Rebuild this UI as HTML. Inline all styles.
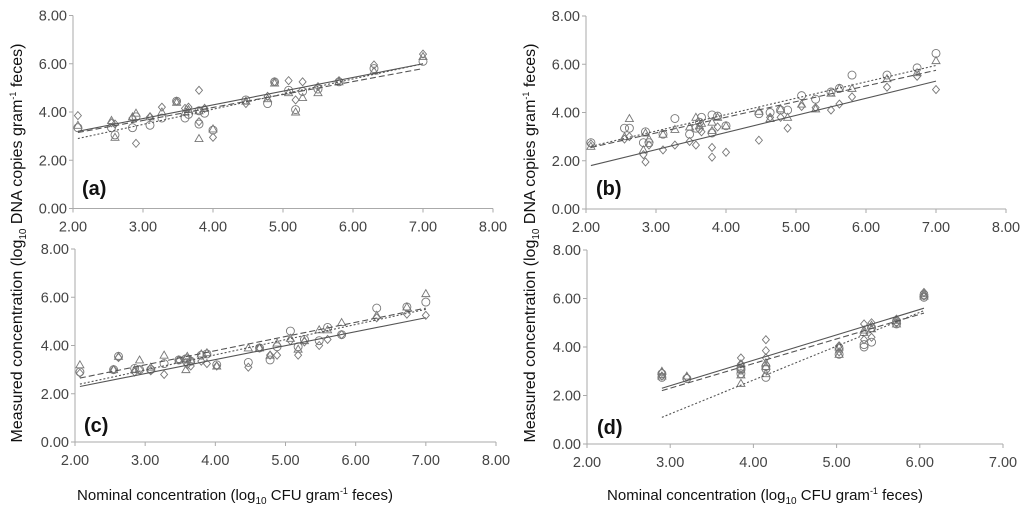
<!DOCTYPE html>
<html><head><meta charset="utf-8"><style>
html,body{margin:0;padding:0;background:#fff;}
svg{display:block;font-family:"Liberation Sans",sans-serif;}
</style></head><body>
<svg id="chart" width="1024" height="514" viewBox="0 0 1024 514" xmlns="http://www.w3.org/2000/svg">
<text transform="translate(22,243) rotate(-90)" text-anchor="middle" font-size="16" fill="#111">Measured concentration (log<tspan font-size="10" dy="4">10</tspan><tspan dy="-4"> DNA copies gram</tspan><tspan font-size="9" dy="-6">-1</tspan><tspan dy="6"> feces)</tspan></text>
<text transform="translate(535,243) rotate(-90)" text-anchor="middle" font-size="16" fill="#111">Measured concentration (log<tspan font-size="10" dy="4">10</tspan><tspan dy="-4"> DNA copies gram</tspan><tspan font-size="9" dy="-6">-1</tspan><tspan dy="6"> feces)</tspan></text>
<text x="235" y="500" text-anchor="middle" font-size="15" fill="#111">Nominal concentration (log<tspan font-size="10" dy="4">10</tspan><tspan dy="-4"> CFU gram</tspan><tspan font-size="9" dy="-6">-1</tspan><tspan dy="6"> feces)</tspan></text>
<text x="765" y="500" text-anchor="middle" font-size="15" fill="#111">Nominal concentration (log<tspan font-size="10" dy="4">10</tspan><tspan dy="-4"> CFU gram</tspan><tspan font-size="9" dy="-6">-1</tspan><tspan dy="6"> feces)</tspan></text>
</svg>
<script>
const yTicks = [0,2,4,6,8];
const xTicksABC = [2,3,4,5,6,7,8];
const xTicksD = [2,3,4,5,6,7];

const aX = [2.07,2.55,2.6,2.85,2.9,3.1,3.27,3.48,3.6,3.65,3.8,3.8,3.88,4.0,4.47,4.78,4.88,5.08,5.18,5.28,5.5,5.8,6.3,7.0];
const aDiamond = [3.85,3.55,3.5,3.75,2.7,3.8,4.2,4.45,4.15,4.2,4.9,3.6,4.15,2.95,4.35,4.65,5.25,5.3,4.5,5.25,5.05,5.3,5.95,6.4];
const aCircle = [3.35,3.35,3.05,3.35,3.8,3.45,3.75,4.45,3.75,3.9,3.5,4.05,3.95,3.25,4.5,4.35,5.25,4.9,4.1,4.85,4.95,5.25,5.8,6.1];
const aTriangle = [3.45,3.65,2.95,3.8,3.95,3.8,4.0,4.4,4.0,4.1,2.9,4.05,4.15,3.3,4.45,4.55,5.2,4.8,4.0,4.6,4.8,5.25,5.7,6.3];
const aLineX = [2.07,7.0];
const aSolid = [3.2,6.0];
const aDashed = [3.15,5.8];
const aDotted = [2.9,6.0];

const bX = [2.07,2.55,2.62,2.82,2.85,2.9,3.1,3.27,3.48,3.57,3.62,3.65,3.8,3.8,3.88,4.0,4.47,4.63,4.78,4.88,5.08,5.28,5.5,5.62,5.8,6.3,6.73,7.0];
const bDiamond = [2.7,2.9,3.0,2.25,1.95,2.65,2.45,2.65,2.8,2.65,3.3,3.2,2.55,2.15,3.4,2.35,2.85,3.8,3.8,3.35,4.25,4.2,4.1,4.35,4.65,5.05,5.5,4.95];
const bCircle = [2.75,3.35,3.35,2.75,3.2,2.75,3.1,3.75,3.1,3.35,3.6,3.8,3.9,3.15,3.85,3.45,3.95,4.0,4.1,4.1,4.7,4.55,4.85,5.0,5.55,5.55,5.85,6.45];
const bTriangle = [2.6,3.0,3.75,2.45,3.15,2.9,3.1,3.3,3.4,3.8,3.45,3.55,3.6,3.25,3.8,3.45,4.05,3.75,4.15,3.8,4.35,4.15,4.8,5.0,5.0,5.4,5.65,6.15];
const bLineX = [2.07,7.0];
const bSolid = [1.8,5.3];
const bDashed = [2.55,5.75];
const bDotted = [2.6,5.95];

const cX = [2.07,2.55,2.62,2.85,2.92,3.08,3.27,3.48,3.58,3.6,3.65,3.8,3.88,4.02,4.47,4.63,4.78,4.88,5.07,5.18,5.27,5.48,5.6,5.8,6.3,6.73,7.0];
const cDiamond = [2.85,3.0,3.5,2.9,3.0,2.95,2.8,3.4,3.3,3.2,3.15,3.35,3.25,3.15,3.1,3.9,3.6,3.6,4.2,3.6,4.15,4.0,4.25,4.45,5.15,5.3,5.25];
const cCircle = [2.9,3.0,3.55,3.05,3.0,3.0,3.25,3.4,3.45,3.45,3.35,3.6,3.65,3.2,3.3,3.9,3.4,3.95,4.6,3.95,4.25,4.2,4.75,4.45,5.55,5.6,5.8];
const cTriangle = [3.2,3.0,3.55,3.0,3.4,3.1,3.6,3.4,3.0,3.55,3.4,3.65,3.7,3.15,3.9,3.9,3.6,4.1,4.3,3.85,4.2,4.65,4.65,4.95,5.25,5.6,6.15];
const cLineX = [2.07,7.0];
const cSolid = [2.3,5.15];
const cDashed = [2.65,5.55];
const cDotted = [2.4,5.5];

const dX = [2.9,2.9,3.2,3.85,3.85,3.85,4.15,4.15,4.15,5.03,5.03,5.33,5.33,5.42,5.42,5.72,5.72,6.05,6.05];
const dDiamond = [2.95,2.8,2.75,3.55,3.3,3.1,4.3,3.85,3.55,4.05,3.8,4.95,4.3,5.0,4.4,5.15,5.0,6.25,6.1];
const dCircle = [2.9,2.75,2.7,3.1,3.05,2.9,3.2,3.1,2.75,3.95,3.7,4.1,4.0,4.8,4.2,5.05,4.95,6.15,6.05];
const dTriangle = [3.0,2.8,2.8,2.85,2.5,3.3,3.35,3.2,2.9,4.0,3.7,4.7,4.6,4.9,4.75,5.1,4.95,6.2,6.1];
const dLineX = [2.9,6.05];
const dSolid = [2.3,5.6];
const dDashed = [2.2,5.4];
const dDotted = [1.1,5.5];

const NS = "http://www.w3.org/2000/svg";
const svg = document.getElementById('chart');
function mk(tag, attrs, parent){const e=document.createElementNS(NS,tag);for(const k in attrs)e.setAttribute(k,attrs[k]);(parent||svg).appendChild(e);return e;}

const panels = [
 {id:'a', px0:73, px1:493, py0:208.5, py8:15.5, xmin:2, xmax:8, ticks:xTicksABC, X:aX, D:aDiamond, C:aCircle, T:aTriangle, LX:aLineX, S:aSolid, Da:aDashed, Do:aDotted, lx:82, ly:195},
 {id:'b', px0:586, px1:1006, py0:209, py8:16, xmin:2, xmax:8, ticks:xTicksABC, X:bX, D:bDiamond, C:bCircle, T:bTriangle, LX:bLineX, S:bSolid, Da:bDashed, Do:bDotted, lx:596, ly:195},
 {id:'c', px0:75, px1:496, py0:442, py8:249, xmin:2, xmax:8, ticks:xTicksABC, X:cX, D:cDiamond, C:cCircle, T:cTriangle, LX:cLineX, S:cSolid, Da:cDashed, Do:cDotted, lx:84, ly:432},
 {id:'d', px0:587, px1:1003, py0:444, py8:250, xmin:2, xmax:7, ticks:xTicksD, X:dX, D:dDiamond, C:dCircle, T:dTriangle, LX:dLineX, S:dSolid, Da:dDashed, Do:dDotted, lx:597, ly:434}
];

panels.forEach(p=>{
  const g = mk('g',{});
  
  
  const sx = v => p.px0 + (v-p.xmin)/(p.xmax-p.xmin)*(p.px1-p.px0);
  const sy = v => p.py0 + v/8*(p.py8-p.py0);
  const ax = mk('path',{d:`M${p.px0},${p.py8} L${p.px0},${p.py0} L${p.px1},${p.py0}`, stroke:'#aaa', 'stroke-width':1, fill:'none'}, g);
  
  
  yTicks.forEach(t=>{
    mk('line',{x1:p.px0-4,x2:p.px0,y1:sy(t),y2:sy(t),stroke:'#aaa'},g);
    const tx = mk('text',{x:p.px0-6,y:sy(t)+5,'text-anchor':'end','font-size':14.5,fill:'#444'},g);
    tx.textContent = t.toFixed(2);
    
    
  });
  p.ticks.forEach(t=>{
    mk('line',{x1:sx(t),x2:sx(t),y1:p.py0,y2:p.py0+4,stroke:'#aaa'},g);
    const tx = mk('text',{x:sx(t),y:p.py0+23,'text-anchor':'middle','font-size':14.5,fill:'#444'},g);
    tx.textContent = t.toFixed(2);
    
    
  });
  p.X.forEach((x,i)=>{
    const cx=sx(x);
    let y=sy(p.D[i]);
    const dm = mk('path',{d:`M${cx},${y-4} L${cx+3.5},${y} L${cx},${y+4} L${cx-3.5},${y} Z`,fill:'none',stroke:'#777','stroke-width':0.9},g);
    
    
    y=sy(p.C[i]);
    const ci = mk('circle',{cx:cx,cy:y,r:4,fill:'none',stroke:'#777','stroke-width':0.9},g);
    
    
    y=sy(p.T[i]);
    const tr = mk('path',{d:`M${cx},${y-4} L${cx+4},${y+3} L${cx-4},${y+3} Z`,fill:'none',stroke:'#777','stroke-width':0.9},g);
    
    
  });
  [[p.S,'none','solid'],[p.Da,'6,3','dashed'],[p.Do,'2,2','dotted']].forEach(([ys,da,nm])=>{
    const ln = mk('line',{x1:sx(p.LX[0]),y1:sy(ys[0]),x2:sx(p.LX[1]),y2:sy(ys[1]),stroke:'#555','stroke-width':1.1,'stroke-dasharray':da},g);
    
    
  });
  const lb = mk('text',{x:p.lx,y:p.ly,'font-size':20,'font-weight':'bold',fill:'#111'},g);
  lb.textContent = '('+p.id+')';
  
  
});
</script>
</body></html>
